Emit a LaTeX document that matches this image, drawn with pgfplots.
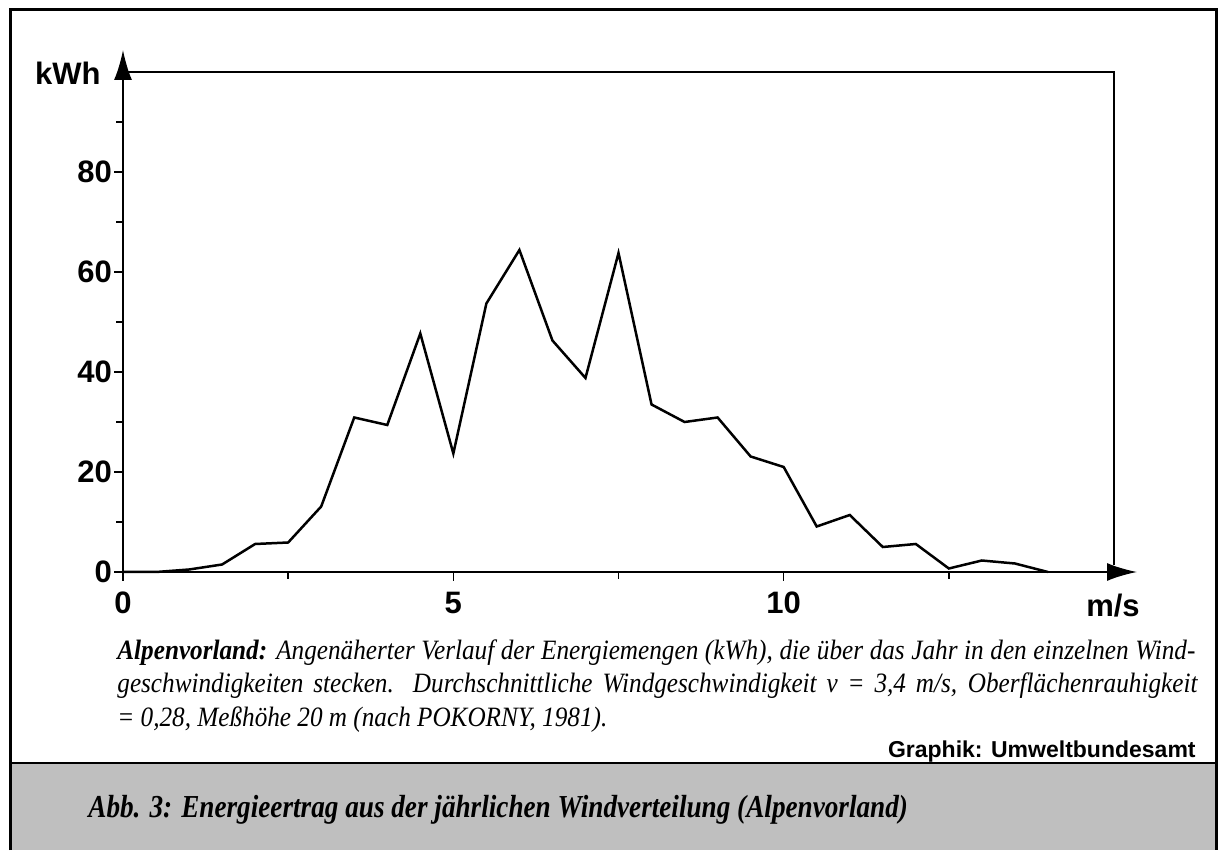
\documentclass[border=0pt]{standalone}
\usepackage{fontspec}
\setmainfont{Liberation Sans}
\newfontfamily\capfont[FakeStretch=0.9]{Liberation Serif}
\newfontfamily\titlefont[FakeStretch=0.85]{Liberation Serif}
\usepackage{pgfplots}
\pgfplotsset{compat=1.18}
\usetikzlibrary{arrows.meta}
\definecolor{halftone}{gray}{0.75}

\begin{document}
\begin{tikzpicture}[x=1pt,y=1pt]
\path[use as bounding box] (0,0) rectangle (609,425);
\fill[halftone] (5,0) rectangle (608,43.5);
\draw[line width=1pt] (5,43.5) -- (608,43.5);
\draw[line width=1.5pt] (5,0) -- (5,420) -- (608,420) -- (608,0);
\begin{axis}[
  at={(61.5pt,139pt)}, anchor=south west,
  scale only axis, width=495.5pt, height=250pt,
  xmin=0, xmax=15, ymin=0, ymax=100,
  axis lines=left, clip=false,
  every outer x axis line/.append style={line width=1pt, -{Latex[length=15pt,width=9pt]}, shorten >=-11.5pt},
  every outer y axis line/.append style={line width=1pt, -{Latex[length=15pt,width=9pt]}, shorten >=-11pt},
  xtick={0,5,10}, minor xtick={2.5,7.5,12.5},
  ytick={0,20,40,60,80}, minor ytick={10,30,50,70,90},
  tick align=outside,
  major tick length=4.5pt, minor tick length=3.5pt,
  every tick/.style={black, line width=0.8pt},
  /pgf/number format/assume math mode=true,
  tick label style={font=\bfseries\fontsize{15.5}{16}\selectfont},
  yticklabel style={xshift=2.5pt},
  xticklabel style={yshift=-2pt},
]
\addplot[black, line width=1.25pt] table {
x y
0 0
0.5 0
1.0 0.5
1.5 1.5
2.0 5.6
2.5 5.9
3.0 13.1
3.5 30.9
4.0 29.4
4.5 47.7
5.0 23.7
5.5 53.7
6.0 64.4
6.5 46.3
7.0 38.8
7.5 63.8
8.0 33.5
8.5 30.0
9.0 30.9
9.5 23.1
10.0 21.0
10.5 9.1
11.0 11.4
11.5 5.0
12.0 5.6
12.5 0.7
13.0 2.3
13.5 1.7
14.0 0
};
\draw[line width=0.8pt] (axis cs:0,100) -- (axis cs:15,100) -- (axis cs:15,1.4);
\end{axis}
\node[anchor=base east, inner sep=0, font=\bfseries\fontsize{15.5}{16}\selectfont] at (50.5,382.5) {kWh};
\node[anchor=base, inner sep=0, font=\bfseries\fontsize{15.5}{16}\selectfont] at (556.5,116.5) {m/s};
\node[anchor=base west, inner sep=0, font=\capfont\itshape\fontsize{14}{15}\selectfont] at (58.5,95) {\makebox[539pt][s]{{\bfseries Alpenvorland:} Angenäherter Verlauf der Energiemengen (kWh), die über das Jahr in den einzelnen Wind-}};
\node[anchor=base west, inner sep=0, font=\capfont\itshape\fontsize{14}{15}\selectfont] at (58.5,78.5) {\makebox[540pt][s]{geschwindigkeiten stecken. Durchschnittliche Windgeschwindigkeit v = 3,4 m/s, Oberflächenrauhigkeit}};
\node[anchor=base west, inner sep=0, font=\capfont\itshape\fontsize{14}{15}\selectfont] at (58.5,61.5) {= 0,28, Meßhöhe 20 m (nach POKORNY, 1981).};
\node[anchor=base east, inner sep=0, font=\bfseries\fontsize{11.5}{13}\selectfont] at (598,46.5) {Graphik: Umweltbundesamt};
\node[anchor=base west, inner sep=0, font=\titlefont\bfseries\itshape\fontsize{16}{18}\selectfont] at (44,16.5) {Abb. 3: Energieertrag aus der jährlichen Windverteilung (Alpenvorland)};
\end{tikzpicture}
\end{document}
